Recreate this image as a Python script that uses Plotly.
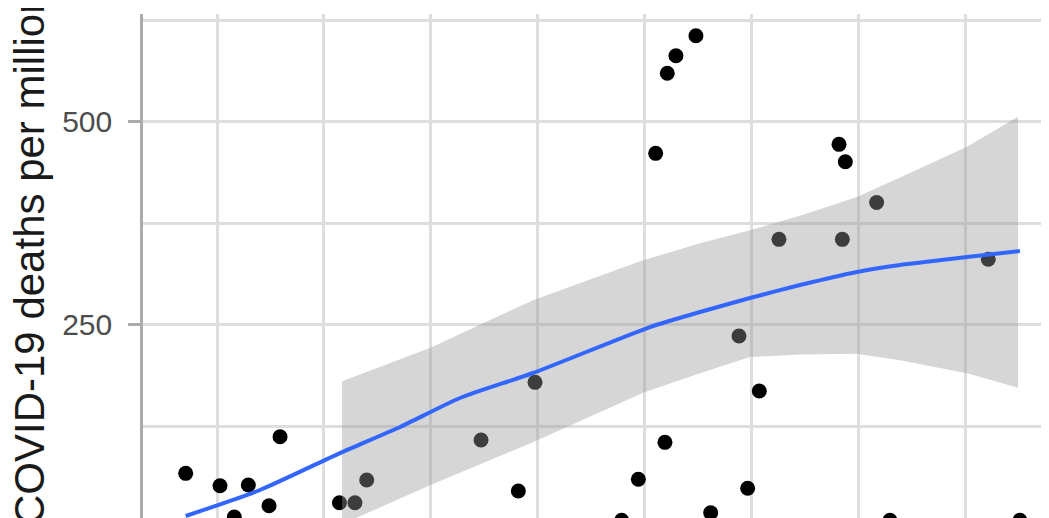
import plotly.graph_objects as go

# ---- data ----
pt_x = [7.07, 10.28, 11.62, 12.93, 14.87, 15.90, 21.46, 22.91, 24.01, 34.71, 38.20, 39.76,
        47.87, 49.43, 51.05, 51.92, 52.14, 52.95, 54.82, 56.20, 58.85, 59.66, 60.75, 61.94,
        62.59, 68.21, 68.52, 68.80, 71.73, 72.98, 82.18, 85.14]
pt_y = [66.7, 51.5, 13.0, 52.3, 26.8, 111.8, 30.5, 30.5, 58.5, 107.8, 45.0, 178.8,
        9.0, 59.4, 460.8, 104.9, 559.4, 581.0, 605.7, 18.2, 235.8, 48.3, 168.1, 0.0,
        354.9, 471.9, 354.9, 450.5, 400.2, 9.0, 330.3, 9.0]

fit_x = [7.07, 14.02, 21.51, 27.13, 32.74, 39.57, 50.52, 55.20, 59.88, 64.56, 69.89, 73.92, 80.19, 85.14]
fit_y = [14.2, 46.2, 91.7, 123.8, 159.5, 190.3, 246.9, 265.4, 282.6, 298.6, 314.7, 323.3, 333.1, 340.5]

band_x = [21.70, 29.93, 39.57, 49.87, 55.20, 59.88, 64.56, 69.89, 73.92, 80.19, 84.96]
band_hi = [180.0, 221.0, 280.0, 329.0, 350.0, 366.0, 384.0, 407.0, 431.0, 469.0, 506.0]
band_lo = [4.0, 52.0, 105.0, 166.0, 190.0, 210.0, 213.0, 214.0, 206.0, 190.0, 172.0]

y_title = "COVID-19 deaths per million"

fig = go.Figure()

fig.add_trace(go.Scatter(
    x=pt_x, y=pt_y, mode="markers",
    marker=dict(color="black", size=15, line=dict(width=0)),
    showlegend=False, hoverinfo="skip"))

fig.add_trace(go.Scatter(
    x=band_x + band_x[::-1], y=band_hi + band_lo[::-1],
    mode="lines", fill="toself", fillcolor="rgba(153,153,153,0.4)",
    line=dict(width=0), showlegend=False, hoverinfo="skip"))

fig.add_trace(go.Scatter(
    x=fit_x, y=fit_y, mode="lines",
    line=dict(color="#3366FF", width=4, shape="spline", smoothing=0.6),
    showlegend=False, hoverinfo="skip"))

# page body adds an 8px offset; plot area spans screen x 143..1057, y 14..538
W, H, L, T = 1049, 530, 135, 6
pw, ph = W - L, H - T
grid = "#DEDEDE"
fig.update_layout(
    width=W, height=H,
    margin=dict(l=L, r=0, t=T, b=0),
    paper_bgcolor="white", plot_bgcolor="white",
    font=dict(family="Liberation Sans, Arial, sans-serif"),
    xaxis=dict(range=[3.075, 88.61], dtick=10, tick0=0, showgrid=True,
               gridcolor=grid, gridwidth=2.5, showticklabels=False,
               zeroline=False, showline=False, ticks=""),
    yaxis=dict(range=[-12.9, 632.4], tick0=0, dtick=250, showgrid=True,
               gridcolor=grid, gridwidth=2.5, zeroline=False,
               showline=True, linecolor="#ABABAB", linewidth=2.5,
               ticks="outside", ticklen=12, tickwidth=2.5, tickcolor="#ABABAB",
               tickfont=dict(size=30, color="#4D4D4D"), ticklabelstandoff=10,
               minor=dict(dtick=125, tick0=0, showgrid=True, gridcolor=grid,
                          gridwidth=2.5, ticks="")),
)

fig.add_annotation(
    text=y_title, textangle=-90, xref="paper", yref="paper",
    x=(29 - 143) / pw, y=(538 - 258) / ph, xanchor="center", yanchor="middle",
    showarrow=False, font=dict(size=42, color="#1A1A1A"))

fig.write_html("out.html")
